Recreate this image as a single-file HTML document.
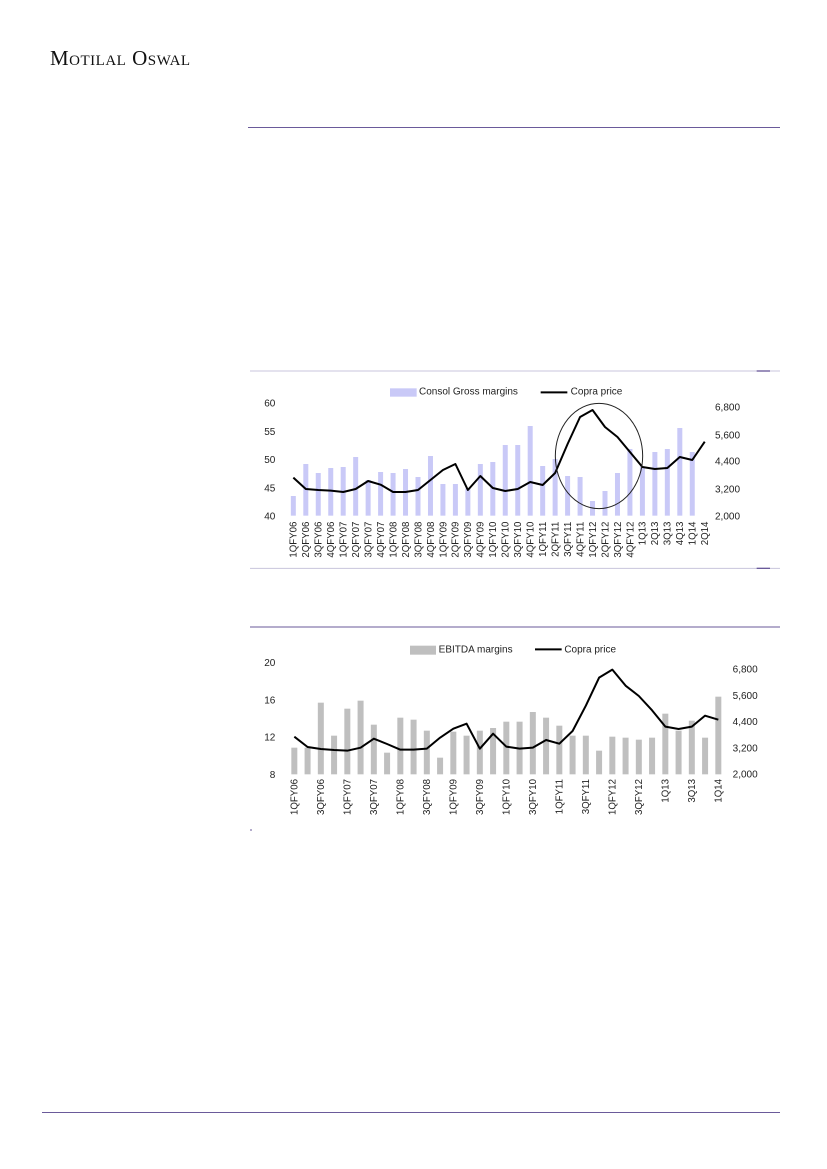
<!DOCTYPE html>
<html><head><meta charset="utf-8"><style>
body{margin:0;background:#fff;}
.pg{position:relative;width:827px;height:1169px;overflow:hidden;background:#fff;font-family:"Liberation Sans",sans-serif;}
.logo{position:absolute;left:50px;top:46px;font-family:"Liberation Serif",serif;font-size:21px;font-variant:small-caps;letter-spacing:0.5px;color:#111;}
.rule{position:absolute;height:1px;background:#6a5a9a;}
svg{position:absolute;}
</style></head><body><div class="pg">
<div class="logo">Motilal Oswal</div>
<div class="rule" style="left:248px;top:127px;width:532px;"></div>
<div class="rule" style="left:42px;top:1112px;width:738px;"></div>

<svg style="left:250px;top:370px" width="530" height="200" viewBox="0 0 1590 600" font-family="Liberation Sans, sans-serif">
<line x1="0" y1="3" x2="1590" y2="3" stroke="#c8c4dc" stroke-width="3"/>
<line x1="0" y1="595" x2="1590" y2="595" stroke="#c8c4dc" stroke-width="3"/>
<line x1="1520" y1="3" x2="1560" y2="3" stroke="#6a5a9a" stroke-width="4"/>
<line x1="1520" y1="595" x2="1560" y2="595" stroke="#6a5a9a" stroke-width="4"/>
<rect x="420" y="55" width="80" height="25" fill="#c9c9f7"/>
<text x="507" y="74" font-size="30" fill="#222">Consol Gross margins</text>
<line x1="872" y1="67" x2="952" y2="67" stroke="#000" stroke-width="6"/>
<text x="962" y="74" font-size="30" fill="#222">Copra price</text>
<g font-size="30" fill="#222" text-anchor="end">
<text x="76" y="110">60</text><text x="76" y="195">55</text><text x="76" y="279">50</text><text x="76" y="364">45</text><text x="76" y="448">40</text>
</g>
<g font-size="30" fill="#222">
<text x="1395" y="121">6,800</text><text x="1395" y="205">5,600</text><text x="1395" y="284">4,400</text><text x="1395" y="368">3,200</text><text x="1395" y="448">2,000</text>
</g>
<g fill="#c9c9f7">
<rect x="122.5" y="378" width="15" height="59"/><rect x="159.9" y="282" width="15" height="155"/><rect x="197.3" y="309" width="15" height="128"/><rect x="234.7" y="294" width="15" height="143"/><rect x="272.1" y="291" width="15" height="146"/><rect x="309.5" y="261" width="15" height="176"/><rect x="346.9" y="330" width="15" height="107"/><rect x="384.3" y="306" width="15" height="131"/><rect x="421.7" y="309" width="15" height="128"/><rect x="459.1" y="297" width="15" height="140"/><rect x="496.5" y="321" width="15" height="116"/><rect x="533.9" y="258" width="15" height="179"/><rect x="571.3" y="342" width="15" height="95"/><rect x="608.7" y="342" width="15" height="95"/><rect x="646.1" y="355" width="15" height="82"/><rect x="683.5" y="282" width="15" height="155"/><rect x="720.9" y="276" width="15" height="161"/><rect x="758.3" y="225" width="15" height="212"/><rect x="795.7" y="225" width="15" height="212"/><rect x="833.1" y="168" width="15" height="269"/><rect x="870.5" y="288" width="15" height="149"/><rect x="907.9" y="267" width="15" height="170"/><rect x="945.3" y="318" width="15" height="119"/><rect x="982.7" y="321" width="15" height="116"/><rect x="1020.1" y="393" width="15" height="44"/><rect x="1057.5" y="363" width="15" height="74"/><rect x="1094.9" y="309" width="15" height="128"/><rect x="1132.3" y="237" width="15" height="200"/><rect x="1169.7" y="290" width="15" height="147"/><rect x="1207.1" y="246" width="15" height="191"/><rect x="1244.5" y="237" width="15" height="200"/><rect x="1281.9" y="174" width="15" height="263"/><rect x="1319.3" y="246" width="15" height="191"/>
</g>
<polyline fill="none" stroke="#000" stroke-width="6" stroke-linejoin="round" points="130,323 167.4,357 204.8,360 242.2,362 279.6,366 317,357 354.4,333 391.8,344 429.2,366 466.6,366 504,360 541.4,330 578.8,300 616.2,282 653.6,360 691,318 728.4,354 765.8,363 803.2,357 840.6,336 878,345 915.4,309 952.8,222 990.2,141 1027.6,120 1065,171 1102.4,201 1139.8,246 1177.2,291 1214.6,297 1252,294 1289.4,261 1326.8,270 1364.2,215"/>
<ellipse cx="1047" cy="258" rx="131" ry="158" fill="none" stroke="#222" stroke-width="3"/>
<g font-size="29" fill="#222" text-anchor="end">
<text transform="translate(140,455) rotate(-90)">1QFY06</text><text transform="translate(177.4,455) rotate(-90)">2QFY06</text><text transform="translate(214.8,455) rotate(-90)">3QFY06</text><text transform="translate(252.2,455) rotate(-90)">4QFY06</text><text transform="translate(289.6,455) rotate(-90)">1QFY07</text><text transform="translate(327,455) rotate(-90)">2QFY07</text><text transform="translate(364.4,455) rotate(-90)">3QFY07</text><text transform="translate(401.8,455) rotate(-90)">4QFY07</text><text transform="translate(439.2,455) rotate(-90)">1QFY08</text><text transform="translate(476.6,455) rotate(-90)">2QFY08</text><text transform="translate(514,455) rotate(-90)">3QFY08</text><text transform="translate(551.4,455) rotate(-90)">4QFY08</text><text transform="translate(588.8,455) rotate(-90)">1QFY09</text><text transform="translate(626.2,455) rotate(-90)">2QFY09</text><text transform="translate(663.6,455) rotate(-90)">3QFY09</text><text transform="translate(701,455) rotate(-90)">4QFY09</text><text transform="translate(738.4,455) rotate(-90)">1QFY10</text><text transform="translate(775.8,455) rotate(-90)">2QFY10</text><text transform="translate(813.2,455) rotate(-90)">3QFY10</text><text transform="translate(850.6,455) rotate(-90)">4QFY10</text><text transform="translate(888,455) rotate(-90)">1QFY11</text><text transform="translate(925.4,455) rotate(-90)">2QFY11</text><text transform="translate(962.8,455) rotate(-90)">3QFY11</text><text transform="translate(1000.2,455) rotate(-90)">4QFY11</text><text transform="translate(1037.6,455) rotate(-90)">1QFY12</text><text transform="translate(1075,455) rotate(-90)">2QFY12</text><text transform="translate(1112.4,455) rotate(-90)">3QFY12</text><text transform="translate(1149.8,455) rotate(-90)">4QFY12</text><text transform="translate(1187.2,455) rotate(-90)">1Q13</text><text transform="translate(1224.6,455) rotate(-90)">2Q13</text><text transform="translate(1262,455) rotate(-90)">3Q13</text><text transform="translate(1299.4,455) rotate(-90)">4Q13</text><text transform="translate(1336.8,455) rotate(-90)">1Q14</text><text transform="translate(1374.2,455) rotate(-90)">2Q14</text>
</g>
</svg>

<svg style="left:250px;top:625px" width="530" height="210" viewBox="0 0 1590 630" font-family="Liberation Sans, sans-serif">
<line x1="0" y1="6" x2="1590" y2="6" stroke="#6a5a9a" stroke-width="3"/>
<line x1="0" y1="615" x2="6" y2="615" stroke="#6a5a9a" stroke-width="3"/>
<rect x="480" y="62" width="78" height="27" fill="#bfbfbf"/>
<text x="566" y="82" font-size="30" fill="#222">EBITDA margins</text>
<line x1="855" y1="73" x2="935" y2="73" stroke="#000" stroke-width="6"/>
<text x="943" y="82" font-size="30" fill="#222">Copra price</text>
<g font-size="30" fill="#222" text-anchor="end">
<text x="76" y="123">20</text><text x="76" y="235">16</text><text x="76" y="347">12</text><text x="76" y="459">8</text>
</g>
<g font-size="30" fill="#222">
<text x="1448" y="143">6,800</text><text x="1448" y="222">5,600</text><text x="1448" y="300">4,400</text><text x="1448" y="379">3,200</text><text x="1448" y="458">2,000</text>
</g>
<g fill="#bfbfbf">
<rect x="124" y="368" width="18" height="80"/><rect x="163.75" y="368" width="18" height="80"/><rect x="203.5" y="233" width="18" height="215"/><rect x="243.25" y="332" width="18" height="116"/><rect x="283" y="251" width="18" height="197"/><rect x="322.75" y="227" width="18" height="221"/><rect x="362.5" y="299" width="18" height="149"/><rect x="402.25" y="383" width="18" height="65"/><rect x="442" y="278" width="18" height="170"/><rect x="481.75" y="284" width="18" height="164"/><rect x="521.5" y="317" width="18" height="131"/><rect x="561.25" y="398" width="18" height="50"/><rect x="601" y="320" width="18" height="128"/><rect x="640.75" y="332" width="18" height="116"/><rect x="680.5" y="317" width="18" height="131"/><rect x="720.25" y="309" width="18" height="139"/><rect x="760" y="290" width="18" height="158"/><rect x="799.75" y="290" width="18" height="158"/><rect x="839.5" y="261" width="18" height="187"/><rect x="879.25" y="278" width="18" height="170"/><rect x="919" y="302" width="18" height="146"/><rect x="958.75" y="332" width="18" height="116"/><rect x="998.5" y="332" width="18" height="116"/><rect x="1038.25" y="377" width="18" height="71"/><rect x="1078" y="335" width="18" height="113"/><rect x="1117.75" y="338" width="18" height="110"/><rect x="1157.5" y="344" width="18" height="104"/><rect x="1197.25" y="338" width="18" height="110"/><rect x="1237" y="266" width="18" height="182"/><rect x="1276.75" y="317" width="18" height="131"/><rect x="1316.5" y="287" width="18" height="161"/><rect x="1356.25" y="338" width="18" height="110"/><rect x="1396" y="215" width="18" height="233"/>
</g>
<polyline fill="none" stroke="#000" stroke-width="6" stroke-linejoin="round" points="133,335 172.75,366 212.5,372 252.25,375 292,377 331.75,368 371.5,341 411.25,357 451,374 490.75,374 530.5,371 570.25,338 610,311 649.75,296 689.5,371 729.25,326 769,365 808.75,371 848.5,368 888.25,345 928,356 967.75,318 1007.5,242 1047.25,158 1087,134 1126.75,182 1166.5,213 1206.25,256 1246,305 1285.75,312 1325.5,305 1365.25,272 1405,284"/>
<g font-size="29" fill="#222" text-anchor="end">
<text transform="translate(143,462) rotate(-90)">1QFY06</text><text transform="translate(222.5,462) rotate(-90)">3QFY06</text><text transform="translate(302,462) rotate(-90)">1QFY07</text><text transform="translate(381.5,462) rotate(-90)">3QFY07</text><text transform="translate(461,462) rotate(-90)">1QFY08</text><text transform="translate(540.5,462) rotate(-90)">3QFY08</text><text transform="translate(620,462) rotate(-90)">1QFY09</text><text transform="translate(699.5,462) rotate(-90)">3QFY09</text><text transform="translate(779,462) rotate(-90)">1QFY10</text><text transform="translate(858.5,462) rotate(-90)">3QFY10</text><text transform="translate(938,462) rotate(-90)">1QFY11</text><text transform="translate(1017.5,462) rotate(-90)">3QFY11</text><text transform="translate(1097,462) rotate(-90)">1QFY12</text><text transform="translate(1176.5,462) rotate(-90)">3QFY12</text><text transform="translate(1256,462) rotate(-90)">1Q13</text><text transform="translate(1335.5,462) rotate(-90)">3Q13</text><text transform="translate(1415,462) rotate(-90)">1Q14</text>
</g>
</svg>
</div></body></html>
